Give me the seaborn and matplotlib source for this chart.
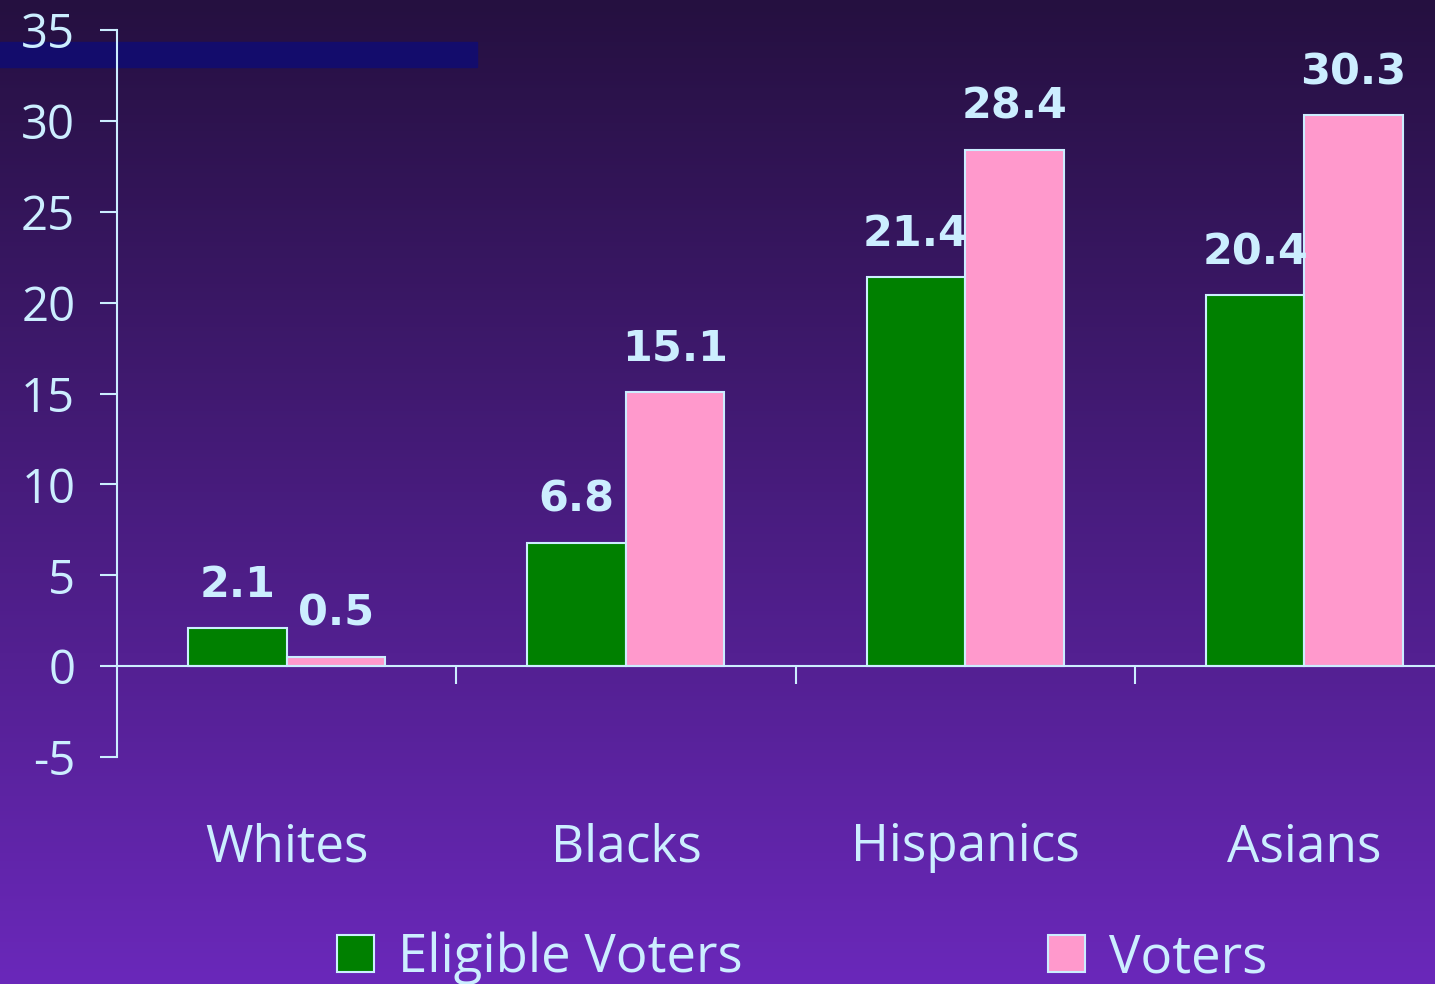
import numpy as np
import pandas as pd
import seaborn as sns
import matplotlib.pyplot as plt
from matplotlib.patches import Rectangle

# datos del grafico
grupos = ["Whites", "Blacks", "Hispanics", "Asians"]
eligible = [2.1, 6.8, 21.4, 20.4]
voters = [0.5, 15.1, 28.4, 30.3]
series = ["Eligible Voters", "Voters"]
yticks = [-5, 0, 5, 10, 15, 20, 25, 30, 35]

df = pd.DataFrame({
    "grupo": grupos * 2,
    "valor": eligible + voters,
    "serie": [series[0]] * 4 + [series[1]] * 4,
})

txt = "#cceeff"
colores = {"Eligible Voters": "#008000", "Voters": "#ff99cc"}

sns.set_style("white")
plt.rcParams["font.family"] = ["Open Sans", "DejaVu Sans"]

fig = plt.figure(figsize=(14.35, 9.84), dpi=100)

# fondo degradado
bg = fig.add_axes([0, 0, 1, 1], zorder=-10)
grad = np.linspace(0, 1, 256).reshape(-1, 1)
top = np.array([0x25, 0x10, 0x40]) / 255
bot = np.array([0x6a, 0x28, 0xba]) / 255
img = top + (bot - top) * grad[:, :, None]
bg.imshow(img, aspect="auto", extent=[0, 1, 0, 1], origin="upper")
bg.add_patch(Rectangle((0, 1 - 67 / 984), 477 / 1435, 25 / 984, color="#130c6c"))
bg.set_xlim(0, 1)
bg.set_ylim(0, 1)
bg.axis("off")

ax = fig.add_axes([117 / 1435, 1 - 757 / 984, 1357 / 1435, 727 / 984])
ax.set_facecolor("none")

sns.barplot(data=df, x="grupo", y="valor", hue="serie", order=grupos, hue_order=series,
            palette=colores, saturation=1, width=0.58, edgecolor=txt, linewidth=1.5,
            ax=ax, legend=True)

for cont in ax.containers:
    ax.bar_label(cont, fmt="%.1f", padding=16, color=txt, fontsize=31,
                 fontweight="bold", family="DejaVu Sans")

ax.set_xlim(-0.5, 3.5)
ax.set_ylim(-5, 35)
ax.set_yticks(yticks)
ax.set_yticklabels([str(t) for t in yticks])
ax.tick_params(axis="y", left=True, colors=txt, labelsize=34, length=12, width=1.5,
               pad=18, direction="out")
ax.set_xticks([0.5, 1.5, 2.5])
ax.set_xticklabels([])
ax.tick_params(axis="x", bottom=True, colors=txt, length=13, width=1.5, direction="out")
ax.set_xlabel("")
ax.set_ylabel("")

for s in ["top", "right"]:
    ax.spines[s].set_visible(False)
ax.spines["bottom"].set_position(("data", 0))
ax.spines["bottom"].set_color(txt)
ax.spines["bottom"].set_linewidth(1.5)
ax.spines["left"].set_color(txt)
ax.spines["left"].set_linewidth(1.5)

for i, g in enumerate(grupos):
    ax.text(i, -10, g, ha="center", va="center", color=txt, fontsize=37)

handles, labels = ax.get_legend_handles_labels()
ax.get_legend().remove()
leg = fig.legend(handles, labels, loc="center", bbox_to_anchor=(0.559, 0.026), ncol=2,
                 frameon=False, fontsize=38, handlelength=0.7, handleheight=0.7,
                 handletextpad=0.45, columnspacing=5.8)
for t in leg.get_texts():
    t.set_color(txt)

fig.savefig("out.png", dpi=100)
